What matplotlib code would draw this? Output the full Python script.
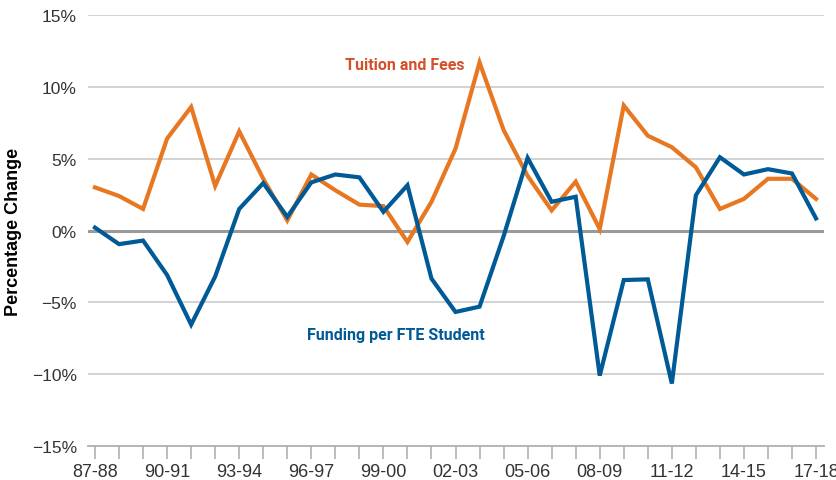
import numpy as np
import matplotlib.pyplot as plt
from matplotlib.ticker import FuncFormatter

# school years 1987-88 .. 2017-18
years = [f"{y % 100:02d}-{(y + 1) % 100:02d}" for y in range(1987, 2018)]

tuition = [3.0, 2.4, 1.5, 6.4, 8.6, 3.1, 6.9, 3.6, 0.7, 3.9,
           2.8, 1.8, 1.7, -0.8, 2.0, 5.7, 11.7, 7.0, 3.8, 1.4,
           3.4, 0.1, 8.7, 6.6, 5.8, 4.4, 1.5, 2.2, 3.6, 3.6, 2.2]

funding = [0.2, -0.95, -0.7, -3.1, -6.55, -3.2, 1.5, 3.3, 0.95, 3.35,
           3.9, 3.7, 1.3, 3.15, -3.35, -5.67, -5.3, -0.4, 5.05, 2.0,
           2.35, -10.1, -3.45, -3.4, -10.65, 2.45, 5.1, 3.9, 4.27, 3.97, 0.84]

yticks = [-15, -10, -5, 0, 5, 10, 15]

orange = '#e87722'
blue = '#005a96'

plt.rcParams['font.family'] = ['Liberation Sans', 'DejaVu Sans']

fig = plt.figure(figsize=(8.36, 4.81), dpi=100)
ax = fig.add_axes([0.1053, 0.0707, 0.8803, 0.896])

x = np.arange(len(years))

# grid lines
for v in yticks:
    if v == 0:
        ax.axhline(v, color='#9a9a9a', lw=2.2, zorder=1)
    elif v != -15:
        ax.axhline(v, color='#cfcfcf', lw=1.3, zorder=1)

ax.plot(x, tuition, color=orange, lw=3, solid_joinstyle='miter', zorder=3)
ax.plot(x, funding, color=blue, lw=3, solid_joinstyle='miter', zorder=3)

ax.set_xlim(-0.29, 30.33)
ax.set_ylim(-15, 15)

ax.set_yticks(yticks)
ax.yaxis.set_major_formatter(FuncFormatter(lambda v, p: f"{int(v)}%".replace('-', '\u2212')))
ax.tick_params(axis='y', length=0, labelsize=12.5, colors='#333333', pad=8)

ax.set_xticks(x, minor=True)
ax.set_xticks(x[::3])
ax.set_xticklabels(years[::3])
ax.tick_params(axis='x', which='both', length=9, width=1.2, color='#b0b0b0', direction='out')
ax.tick_params(axis='x', which='major', labelsize=13, labelcolor='#333333', pad=3)

for s in ['left', 'right', 'top']:
    ax.spines[s].set_visible(False)
ax.spines['bottom'].set_color('#b0b0b0')
ax.spines['bottom'].set_linewidth(1.3)

ax.set_ylabel('Percentage Change', fontsize=13, fontweight='bold', labelpad=7)

label_font = ['Roboto', 'DejaVu Sans']
ax.text(12.9, 11.55, 'Tuition and Fees', color='#d4502a', fontsize=11.5,
        fontweight='bold', family=label_font,
        ha='center', va='center', zorder=4)
ax.text(12.5, -7.25, 'Funding per FTE Student', color=blue, fontsize=11.5,
        fontweight='bold', family=label_font,
        ha='center', va='center', zorder=4)

fig.savefig('out.png', dpi=100)
